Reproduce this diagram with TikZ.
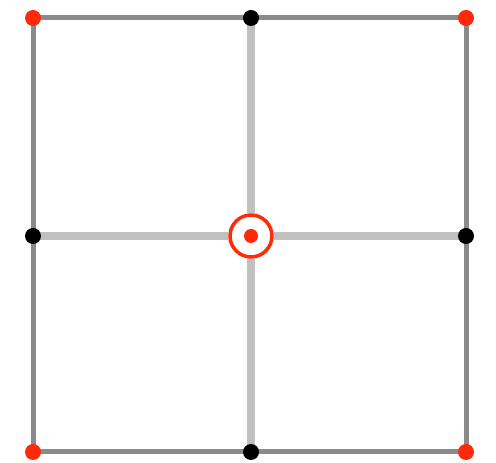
\documentclass[tikz,border=0pt]{standalone}
\usetikzlibrary{backgrounds}
\definecolor{outergray}{HTML}{8A8A8A}
\definecolor{innergray}{HTML}{C0C0C0}
\definecolor{dotred}{HTML}{FF2A0A}
\tikzset{
  reddot/.style={circle,fill=dotred,inner sep=0pt,minimum size=16pt},
  blackdot/.style={circle,fill=black,inner sep=0pt,minimum size=16pt},
  centerdot/.style={circle,fill=dotred,inner sep=0pt,minimum size=14pt},
  ring/.style={circle,draw=dotred,line width=3.5pt,inner sep=0pt,minimum size=42pt},
  outerline/.style={draw=outergray,line width=5pt},
  innerline/.style={draw=innergray,line width=8pt},
}
\begin{document}
\begin{tikzpicture}[x=1pt,y=1pt]
\useasboundingbox (0,0) rectangle (496,463);
\node[reddot] (tl) at (33,445) {};
\node[blackdot] (tm) at (251,445) {};
\node[reddot] (tr) at (466,445) {};
\node[blackdot] (ml) at (33,227) {};
\node[ring] (ring) at (251,227) {};
\node[centerdot] (c) at (251,227) {};
\node[blackdot] (mr) at (466,227) {};
\node[reddot] (bl) at (33,11) {};
\node[blackdot] (bm) at (251,11) {};
\node[reddot] (br) at (466,11) {};
\begin{scope}[on background layer]
  \path[innerline] (tm.center) -- (ring.north);
  \path[innerline] (ring.south) -- (bm.center);
  \path[innerline] (ml.center) -- (ring.west);
  \path[innerline] (ring.east) -- (mr.center);
  \path[outerline] (tl.center) -- (tm.center) -- (tr.center) -- (mr.center) -- (br.center) -- (bm.center) -- (bl.center) -- (ml.center) -- cycle;
\end{scope}
\end{tikzpicture}
\end{document}
